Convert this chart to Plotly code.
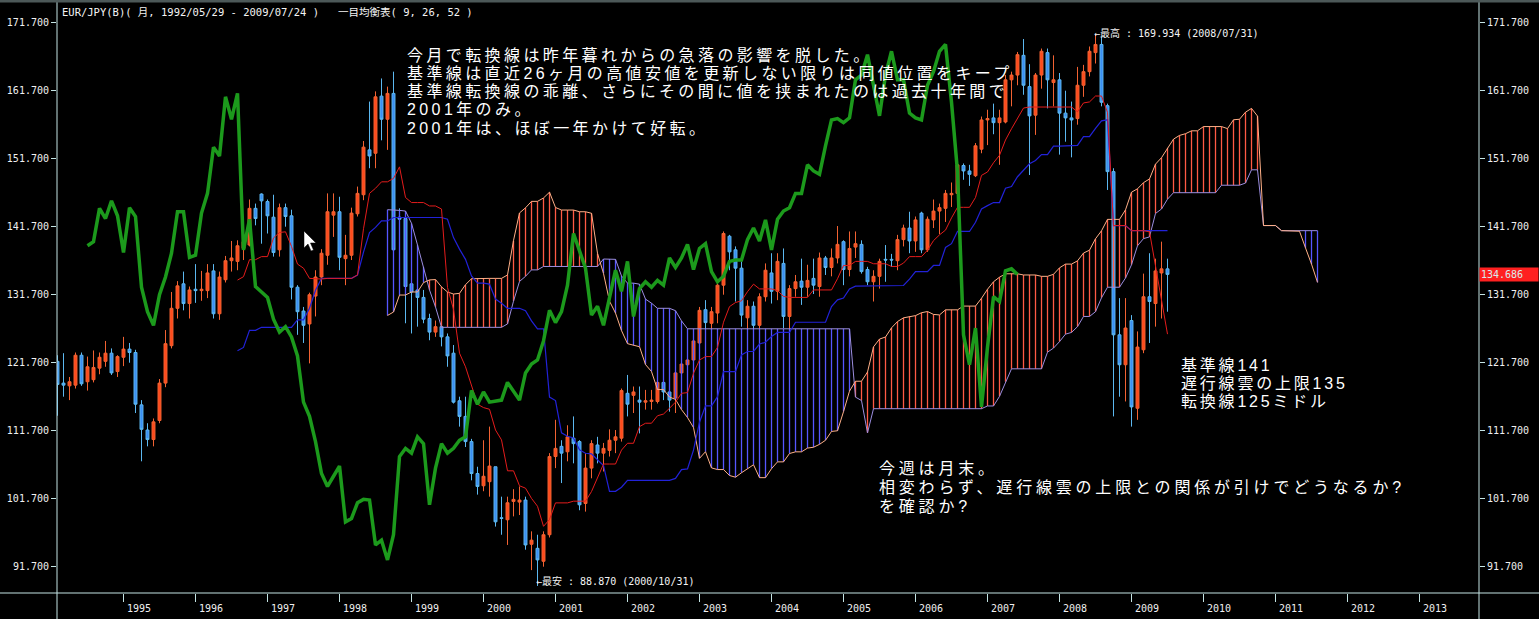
import numpy as np
import pandas as pd
import plotly.graph_objects as go

# ---------------------------------------------------------------- data
months = pd.period_range("1994-02", "2009-07", freq="M")

open_ = [121.9, 118.7, 118.3, 118.4, 122.8, 118.9, 119.2, 120.9, 121.9, 123.1, 120.4,
         122.5, 123.7, 123.2, 115.5, 111.8, 110.4, 113.2, 118.7, 124.2, 129.7, 133.3, 130.4,
         132.5, 132.3, 132.3, 135.2, 128.9, 133.9, 136.7, 136.6, 138.5, 139.0, 144.4, 146.5,
         145.4, 143.1, 138.3, 144.5, 143.3, 132.8, 129.3, 127.4, 131.5, 134.3, 137.5, 143.4,
         143.9, 137.0, 137.5, 143.6, 146.4, 153.0, 152.5, 160.9, 157.5, 161.3, 143.1, 142.9,
         133.3, 132.4, 131.3, 128.2, 126.2, 127.0, 125.5, 123.1, 116.1, 113.8, 110.1, 105.4,
         103.6, 104.2, 106.4, 98.9, 98.6, 101.3, 101.2, 101.5, 95.0, 94.4, 92.5, 96.4,
         107.9, 109.4, 108.6, 110.6, 110.1, 101.0, 106.2, 109.6, 108.4, 108.8, 110.3, 110.6,
         117.2, 116.9, 116.2, 115.9, 116.0, 116.0, 118.8, 117.4, 116.5, 120.2, 121.4, 122.1,
         124.6, 129.5, 127.5, 129.0, 133.1, 140.3, 138.3, 135.6, 128.3, 130.0, 127.2, 131.4,
         134.9, 132.2, 136.3, 128.5, 132.6, 133.7, 132.8, 134.1, 132.9, 137.1, 135.7, 137.1,
         139.5, 135.4, 138.7, 139.1, 135.4, 133.6, 134.4, 136.9, 136.9, 136.7, 139.8, 141.5,
         139.6, 143.7, 138.3, 142.7, 144.0, 144.4, 146.4, 146.6, 150.7, 149.9, 149.2, 153.1,
         157.4, 157.7, 157.0, 157.1, 163.3, 164.0, 166.9, 162.3, 158.1, 164.0, 167.3, 162.9,
         163.3, 158.4, 157.7, 157.6, 162.5, 164.5, 167.3, 168.5, 159.5, 149.8, 125.8, 121.4,
         127.9, 115.0, 123.6, 131.4, 130.4, 134.9, 135.5]

high = [122.8, 123.1, 119.6, 123.2, 123.2, 122.6, 123.5, 123.2, 124.9, 123.8, 122.8,
        125.5, 124.6, 123.6, 116.2, 112.8, 113.5, 119.3, 126.5, 132.1, 133.7, 135.1, 132.9,
        136.2, 135.2, 136.2, 136.2, 135.1, 137.4, 139.6, 139.7, 140.7, 145.7, 145.1, 146.6,
        145.7, 146.4, 145.1, 145.1, 144.2, 133.1, 129.9, 132.0, 135.3, 138.4, 146.6, 146.6,
        146.1, 140.5, 144.5, 147.6, 154.3, 160.1, 161.6, 163.5, 162.3, 164.5, 144.4, 143.4,
        133.9, 132.9, 132.4, 128.9, 127.9, 127.7, 126.0, 124.3, 116.7, 116.7, 110.5, 106.4,
        110.3, 112.3, 106.4, 102.0, 102.0, 103.1, 103.5, 102.0, 96.9, 96.4, 96.9, 108.4,
        113.3, 110.3, 112.5, 113.8, 110.3, 108.4, 110.3, 110.8, 109.9, 111.9, 111.8, 117.9,
        119.9, 118.2, 118.2, 117.7, 117.7, 119.2, 119.2, 119.2, 120.5, 123.1, 123.3, 126.0,
        129.9, 130.9, 129.9, 133.6, 141.0, 140.5, 138.8, 136.6, 130.9, 130.7, 131.9, 136.3,
        137.8, 137.8, 138.5, 133.1, 134.6, 137.0, 136.1, 137.0, 137.9, 137.4, 138.5, 141.8,
        139.7, 141.0, 141.0, 139.7, 135.8, 135.3, 137.0, 139.0, 137.7, 140.5, 142.0, 143.9,
        143.2, 143.9, 143.2, 145.7, 145.1, 147.1, 148.2, 151.3, 151.0, 150.8, 154.0, 157.9,
        158.9, 159.8, 158.9, 164.0, 164.5, 167.4, 169.3, 165.6, 164.3, 167.9, 167.9, 166.9,
        164.3, 161.7, 160.1, 165.2, 165.5, 168.2, 169.934, 169.6, 159.8, 150.3, 131.2, 131.2,
        128.7, 126.3, 134.8, 137.8, 137.0, 139.5, 137.0]

low = [113.9, 116.7, 116.2, 117.9, 118.3, 117.6, 118.8, 120.0, 121.1, 119.9, 119.6,
       121.2, 121.7, 114.3, 107.2, 109.4, 109.4, 112.8, 118.1, 123.8, 128.2, 129.4, 128.2,
       130.5, 130.8, 131.2, 128.2, 128.0, 133.5, 135.1, 135.3, 136.8, 138.8, 141.9, 139.2,
       140.7, 137.3, 137.3, 141.7, 131.0, 125.8, 124.6, 121.6, 128.5, 133.1, 136.1, 140.2,
       135.3, 133.1, 136.8, 143.2, 145.6, 150.3, 150.3, 154.4, 153.0, 136.5, 136.5, 127.5,
       126.0, 127.0, 127.5, 125.0, 125.5, 124.1, 121.1, 115.7, 112.3, 109.3, 104.4, 102.3,
       102.8, 102.0, 97.6, 96.4, 94.9, 99.1, 99.3, 94.2, 91.2, 88.87, 91.7, 96.0,
       106.2, 104.0, 107.2, 106.9, 100.0, 99.8, 104.7, 106.9, 105.7, 107.9, 108.4, 110.1,
       113.8, 114.3, 111.3, 114.8, 114.8, 115.7, 116.2, 114.5, 114.3, 118.9, 120.1, 120.6,
       123.3, 126.3, 125.5, 127.5, 131.7, 135.3, 130.7, 127.0, 125.5, 126.5, 124.1, 130.7,
       130.4, 130.9, 126.8, 126.3, 131.4, 130.2, 131.4, 131.8, 131.4, 134.6, 134.4, 136.3,
       133.1, 134.4, 137.1, 134.8, 133.1, 130.7, 132.6, 133.6, 135.8, 135.3, 138.8, 137.8,
       138.0, 137.8, 138.0, 141.5, 140.6, 142.4, 144.6, 144.9, 148.6, 147.7, 149.0, 152.5,
       153.7, 155.3, 150.8, 156.9, 159.4, 162.5, 161.1, 149.3, 155.2, 162.0, 159.1, 159.4,
       152.3, 154.2, 151.9, 156.7, 160.8, 163.8, 165.7, 159.4, 147.1, 113.8, 116.7, 116.0,
       112.3, 113.3, 123.1, 124.6, 127.0, 128.2, 129.2]

close = [118.5, 118.4, 118.9, 122.8, 118.6, 121.1, 121.0, 122.5, 123.1, 120.2, 122.6,
         123.7, 123.2, 115.6, 111.9, 110.4, 113.0, 118.7, 124.5, 129.7, 133.0, 130.4, 132.4,
         132.3, 132.5, 134.9, 128.9, 134.3, 136.7, 137.1, 138.9, 139.5, 144.4, 142.9, 145.5,
         143.3, 137.9, 144.5, 143.2, 132.8, 129.2, 127.2, 131.7, 134.3, 137.8, 143.9, 143.9,
         137.2, 137.5, 143.7, 146.6, 153.4, 152.1, 160.8, 157.5, 161.3, 138.3, 142.8, 132.9,
         132.1, 131.3, 128.1, 126.2, 127.0, 125.5, 122.7, 115.9, 113.8, 110.1, 105.4, 103.5,
         105.0, 106.5, 98.3, 98.8, 101.1, 101.6, 101.5, 94.9, 95.6, 92.7, 96.4, 107.9,
         109.1, 108.4, 110.8, 109.8, 100.8, 106.2, 109.8, 108.4, 109.1, 110.3, 110.8, 117.6,
         115.6, 117.4, 115.9, 116.1, 116.2, 118.8, 117.4, 116.2, 120.2, 121.5, 122.1, 124.9,
         129.4, 127.6, 129.2, 133.1, 140.7, 138.0, 135.6, 128.7, 130.0, 127.2, 131.4, 135.3,
         132.2, 136.6, 128.5, 132.6, 133.6, 132.8, 133.8, 133.1, 137.1, 135.7, 137.1, 139.1,
         135.4, 138.5, 139.2, 135.1, 133.6, 134.4, 136.6, 136.8, 136.8, 139.8, 141.5, 139.6,
         142.7, 138.3, 142.8, 144.0, 144.5, 146.6, 146.6, 150.8, 149.9, 149.4, 153.6, 157.4,
         157.6, 157.0, 157.7, 163.3, 164.0, 167.0, 162.5, 158.0, 164.0, 167.5, 163.3, 163.3,
         158.4, 157.7, 157.4, 162.5, 164.5, 167.5, 168.5, 160.0, 149.8, 125.8, 121.4, 126.8,
         115.2, 124.0, 131.4, 130.7, 135.2, 135.5, 134.686]

# earlier monthly range (1992-05 .. 1994-01), scrolled off the left edge;
# it only feeds the 52-period leading span
hist_months = pd.period_range("1992-05", "1994-01", freq="M")
hist_high = [178.0, 181.2, 181.0, 180.8, 177.2, 170.8, 164.4, 157.6, 152.6, 146.0, 142.0,
             140.0, 138.0, 135.0, 133.0, 130.0, 127.0, 126.0, 125.5, 125.0, 124.5]
hist_low = [168.0, 170.0, 167.0, 163.0, 158.0, 152.0, 148.0, 144.0, 138.0, 133.0, 130.0,
            128.0, 126.0, 124.0, 121.0, 117.0, 114.0, 115.0, 117.0, 118.0, 118.5]

year_ticks = list(range(1995, 2014))
price_ticks = [91.7, 101.7, 111.7, 121.7, 131.7, 141.7, 151.7, 161.7, 171.7]

title_text = "EUR/JPY(B)( 月, 1992/05/29 - 2009/07/24 )   一目均衡表( 9, 26, 52 )"
note_top = ["今月で転換線は昨年暮れからの急落の影響を脱した。",
            "基準線は直近26ヶ月の高値安値を更新しない限りは同値位置をキープ",
            "基準線転換線の乖離、さらにその間に値を挟まれたのは過去十年間で",
            "2001年のみ。",
            "2001年は、ほぼ一年かけて好転。"]
note_right = ["基準線141", "遅行線雲の上限135", "転換線125ミドル"]
note_bottom = ["今週は月末。",
               "相変わらず、遅行線雲の上限との関係が引けでどうなるか?",
               "を確認か?"]

TENKAN, KIJUN, SENKOU, SHIFT = 9, 26, 52, 25

# ---------------------------------------------------------------- helpers
def month_x(p):
    """Months counted from 1995-01 (one unit per monthly bar)."""
    return (p.year - 1995) * 12 + p.month - 1

kx = [month_x(p) for p in months]
all_x = [month_x(p) for p in hist_months] + kx
H = np.array(hist_high + high)
L = np.array(hist_low + low)
C = np.array([np.nan] * len(hist_high) + close)

first = SENKOU - 1          # lines are drawn once the 52-bar window is full


def midpoint(n, i):
    return (H[i - n + 1:i + 1].max() + L[i - n + 1:i + 1].min()) / 2


idx = list(range(first, len(H)))
line_x = [all_x[i] for i in idx]
tenkan = [midpoint(TENKAN, i) for i in idx]
kijun = [midpoint(KIJUN, i) for i in idx]
span_x = [x + SHIFT for x in line_x]
span_a = [(t + k) / 2 for t, k in zip(tenkan, kijun)]
span_b = [midpoint(SENKOU, i) for i in idx]
chikou_x = [x - SHIFT for x in line_x]
chikou = [C[i] for i in idx]

# pixel geometry of the plotting area
W, HGT = 1539, 619
ML, MR, MT, MB = 57, 60, 5, 26
PW, PH = W - ML - MR, HGT - MT - MB
X0, DX = 123.5, 6.0          # pixel column of 1995-01 and pixels per month


def px(x):
    return (x - ML) / PW


def py(y):
    return (HGT - MB - y) / PH


AX = "#c4e4e4"
MONO = "DejaVu Sans Mono, Noto Sans CJK JP"
NOTE = "Liberation Sans, Noto Sans CJK JP"

fig = go.Figure()

# cloud hatching: one vertical stroke per month between the two leading spans
ux, uy, dx, dy = [], [], [], []
for x, a, b in zip(span_x, span_a, span_b):
    if a >= b:
        ux += [x, x, None]; uy += [a, b, None]
    else:
        dx += [x, x, None]; dy += [a, b, None]
fig.add_trace(go.Scatter(x=ux, y=uy, mode="lines", line=dict(color="#ff5a44", width=1.3),
                         hoverinfo="skip"))
fig.add_trace(go.Scatter(x=dx, y=dy, mode="lines", line=dict(color="#5656ff", width=1.3),
                         hoverinfo="skip"))
fig.add_trace(go.Scatter(x=span_x, y=span_b, mode="lines", line=dict(color="#9c8ee0", width=1),
                         hoverinfo="skip"))
fig.add_trace(go.Scatter(x=span_x, y=span_a, mode="lines", line=dict(color="#ffb088", width=1),
                         hoverinfo="skip"))

fig.add_trace(go.Candlestick(
    x=kx, open=open_, high=high, low=low, close=close,
    increasing=dict(line=dict(color="#f26232", width=1), fillcolor="#ff4a1c"),
    decreasing=dict(line=dict(color="#5cb8f0", width=1), fillcolor="#3c8ef4"),
    whiskerwidth=0, hoverinfo="skip"))

fig.add_trace(go.Scatter(x=line_x, y=kijun, mode="lines", line=dict(color="#2222d8", width=1.2),
                         hoverinfo="skip"))
fig.add_trace(go.Scatter(x=line_x, y=tenkan, mode="lines", line=dict(color="#e41c1c", width=1),
                         hoverinfo="skip"))
fig.add_trace(go.Scatter(x=chikou_x, y=chikou, mode="lines", line=dict(color="#1c9a1c", width=3.5),
                         hoverinfo="skip"))
# anchor for the right-hand price scale
fig.add_trace(go.Scatter(x=[kx[-1]], y=[close[-1]], yaxis="y2", mode="markers",
                         marker=dict(size=1, color="rgba(0,0,0,0)"), hoverinfo="skip"))

y_range = [171.7 - (HGT - MB - 22.7) / 6.8, 171.7 + (22.7 - MT) / 6.8]
x_range = [(ML - X0) / DX, (W - MR - X0) / DX]
yaxis_common = dict(range=y_range, tickvals=price_ticks, ticktext=[f"{v:.3f}" for v in price_ticks],
                    ticks="outside", ticklen=5, tickcolor=AX, showgrid=False, zeroline=False,
                    showline=False, tickfont=dict(family=MONO, size=10, color="#f0f0f0"),
                    fixedrange=True)

fig.update_layout(
    width=W, height=HGT, margin=dict(l=ML, r=MR, t=MT, b=MB),
    paper_bgcolor="black", plot_bgcolor="black", showlegend=False,
    xaxis=dict(range=x_range, tickvals=[(y - 1995) * 12 for y in year_ticks], ticks="outside",
               ticklen=8, tickcolor=AX, showticklabels=False, showgrid=False, zeroline=False,
               showline=False, rangeslider=dict(visible=False), fixedrange=True),
    yaxis=yaxis_common,
    yaxis2=dict(overlaying="y", side="right", **yaxis_common),
)

# frame lines running across the whole window
line_style = dict(color=AX, width=1)
fig.add_shape(type="line", xref="paper", yref="paper", x0=px(0), x1=px(W), y0=0, y1=0, line=line_style)
fig.add_shape(type="line", xref="paper", yref="paper", x0=0, x1=0, y0=py(HGT), y1=py(0), line=line_style)
fig.add_shape(type="line", xref="paper", yref="paper", x0=1, x1=1, y0=py(HGT), y1=py(0), line=line_style)
fig.add_shape(type="rect", xref="paper", yref="paper", x0=px(0), x1=px(W), y0=py(2.5), y1=py(0),
              fillcolor="#4c5858", line=dict(width=0))

# year labels sit to the right of their tick
for y in year_ticks:
    fig.add_annotation(x=(y - 1995) * 12, xref="x", y=py(608), yref="paper", text=str(y),
                       xanchor="left", yanchor="middle", xshift=1, showarrow=False,
                       font=dict(family=MONO, size=10, color="#f0f0f0"))

fig.add_annotation(x=px(60), y=py(12), xref="paper", yref="paper", text=title_text,
                   xanchor="left", yanchor="middle", showarrow=False,
                   font=dict(family=MONO, size=10.5, color="#f4f4f4"))

# last price tag on the right scale
fig.add_annotation(x=1, xref="paper", y=close[-1], yref="y", text=f"{close[-1]:.3f}",
                   xanchor="left", yanchor="middle", showarrow=False, bgcolor="#ff2020",
                   width=56, align="left", borderpad=1,
                   font=dict(family=MONO, size=10, color="#d8ecec"))

# extreme labels
i_hi = int(np.argmax(high))
i_lo = int(np.argmin(low))
date_fmt = lambda p: p.end_time.strftime("%Y/%m/%d")
fig.add_annotation(x=kx[i_hi], y=high[i_hi], text=f"←最高 : {high[i_hi]:.3f} ({date_fmt(months[i_hi])})",
                   xanchor="left", yanchor="middle", xshift=-4, yshift=2, showarrow=False,
                   font=dict(family=MONO, size=10, color="#f4f4f4"))
fig.add_annotation(x=kx[i_lo], y=low[i_lo], text=f"←最安 : {low[i_lo]:.3f} ({date_fmt(months[i_lo])})",
                   xanchor="left", yanchor="middle", xshift=-4, yshift=4, showarrow=False,
                   font=dict(family=MONO, size=10, color="#f4f4f4"))

# commentary, widely spaced glyphs
def note_block(lines, x0, y0, step, spacing=3.4):
    for j, t in enumerate(lines):
        fig.add_annotation(x=px(x0), y=py(y0 + j * step), xref="paper", yref="paper",
                           text=f'<span style="letter-spacing:{spacing}px">{t}</span>',
                           xanchor="left", yanchor="middle", showarrow=False,
                           font=dict(family=NOTE, size=16, color="#ffffff"))


note_block(note_top, 405, 55, 18.3)
note_block(note_right, 1179, 365, 18.5, spacing=2.8)
note_block(note_bottom, 877, 468, 19.5, spacing=3.8)

# mouse pointer glyph
pts = [(304, 231), (304, 248), (308, 244), (311, 251), (313.5, 250), (310.5, 243), (316, 243)]
path = "M " + " L ".join(f"{px(a):.5f},{py(b):.5f}" for a, b in pts) + " Z"
fig.add_shape(type="path", xref="paper", yref="paper", path=path, fillcolor="white",
              line=dict(color="black", width=0.5))

fig.write_html("out.html")
